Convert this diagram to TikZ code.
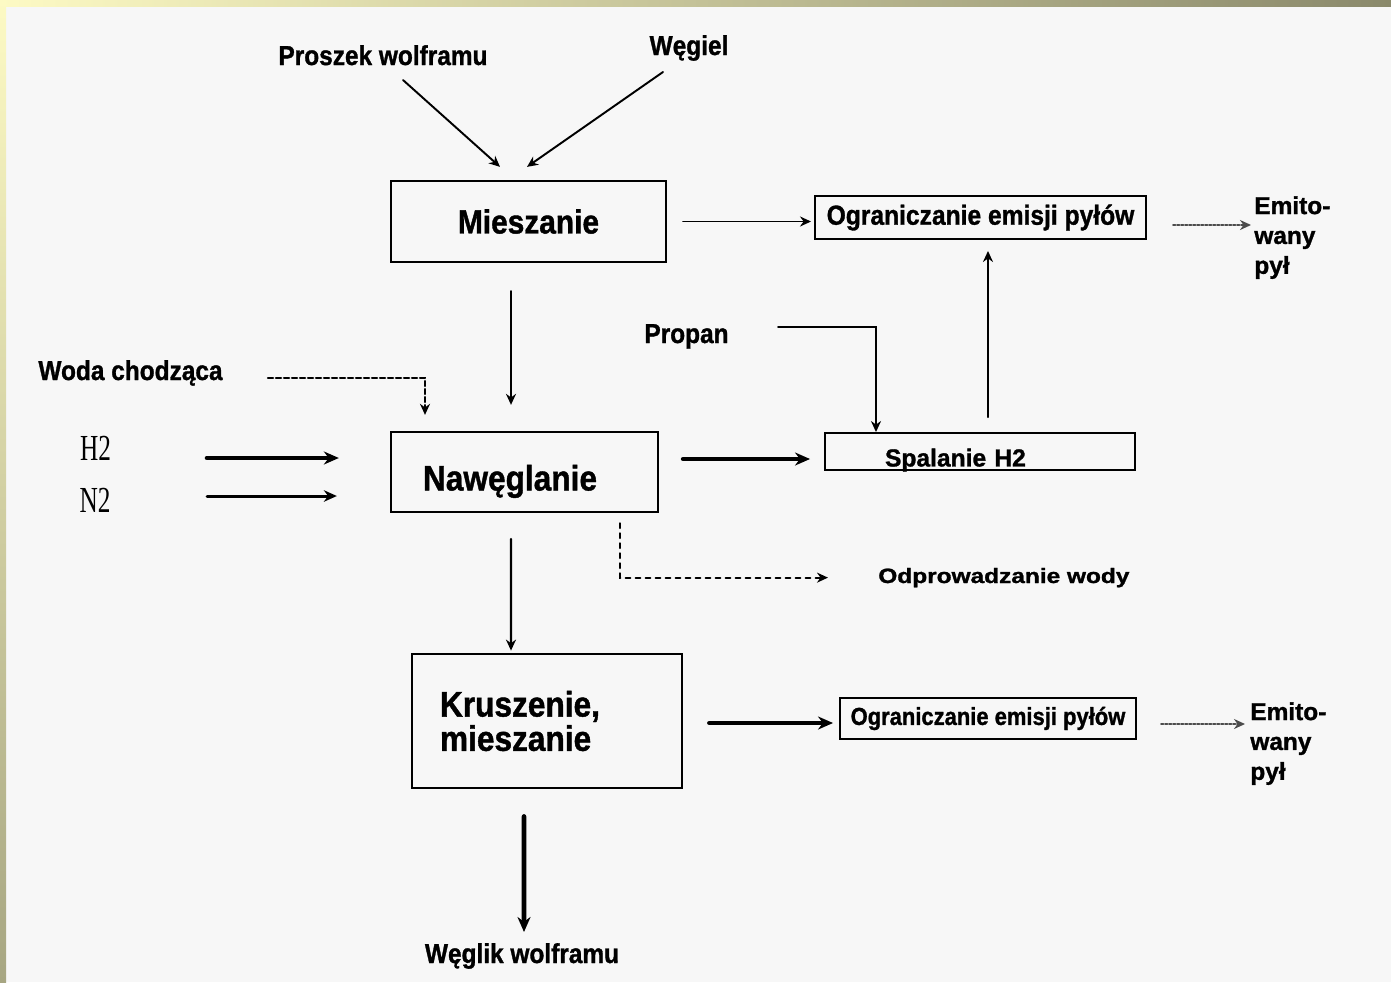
\documentclass[tikz,border=0pt]{standalone}
\usepackage{fontspec}
\setmainfont{Liberation Sans}[BoldFeatures={FakeBold=1.2}]
\newfontfamily\gasfont{Liberation Serif}
\usetikzlibrary{arrows.meta}
\definecolor{slidebg}{HTML}{F7F7F7}
\definecolor{frameA}{HTML}{FDFAC4}
\definecolor{frameB}{HTML}{8A896B}
\definecolor{frameC}{HTML}{A7A682}
\newcommand\tallt[1]{\scalebox{1}[1.12]{#1}}

\begin{document}
\begin{tikzpicture}[x=0.2mm,y=-0.2mm,>={Stealth[length=2.2mm,width=2mm]},line cap=round,
  box/.style={draw,line width=1.3pt,inner sep=0pt,font=\fontsize{18}{19.5}\selectfont\bfseries},
  smallbox/.style={draw,line width=1.1pt,inner sep=0pt,font=\fontsize{14}{17}\selectfont\bfseries},
  lbl/.style={inner sep=0pt,anchor=base,font=\fontsize{13.9}{17}\selectfont\bfseries},
  gas/.style={inner sep=0pt,anchor=base,font=\fontsize{14.4}{17}\selectfont\gasfont},
  flow/.style={->,line width=1.1pt},
  heavy/.style={-{Stealth[length=3mm,width=2.6mm]},line width=2.6pt},
  water/.style={->,line width=1.2pt,dash pattern=on 1mm off 0.6mm},
  dust/.style={->,line width=1pt,gray!60!black,dash pattern=on 0.5mm off 0.3mm}]
\useasboundingbox (0,0) rectangle (1391,982);
\fill[slidebg] (0,0) rectangle (1391,982);
\shade[left color=frameA,right color=frameB] (0,0) rectangle (1391,6);
\shade[top color=frameA,bottom color=frameC] (0,0) rectangle (6,982);

% process boxes
\node[box,font=\fontsize{17}{19}\selectfont\bfseries,minimum width=55mm,minimum height=16.2mm] (mix) at (528.5,221.5) {\tallt{Mieszanie}};
\node[box,minimum width=53.4mm,minimum height=16mm,text width=40.6mm,align=left,text height=21pt,text depth=0pt] (carb) at (524.5,472) {\tallt{Nawęglanie}};
\node[box,line width=1.6pt,minimum width=54mm,minimum height=26.8mm,text width=42.8mm,align=left] (crush) at (547,721) {\tallt{Kruszenie,}\\\tallt{mieszanie}};
\node[smallbox,minimum width=66.2mm,minimum height=8.6mm] (dust1) at (980.5,217.5) {\tallt{Ograniczanie emisji pyłów}};
\node[smallbox,minimum width=62mm,minimum height=7.4mm,text width=38mm,align=left,text height=17pt,text depth=0pt] (burn) at (980,451.5) {Spalanie H2};
\node[smallbox,font=\fontsize{12.5}{15}\selectfont\bfseries,minimum width=59.2mm,minimum height=8.2mm] (dust2) at (988,718.5) {\tallt{Ograniczanie emisji pyłów}};

% labels
\node[lbl] (powder) at (383,65) {\tallt{Proszek wolframu}};
\node[lbl] (coal) at (689,55) {\tallt{Węgiel}};
\node[lbl] (water) at (130.5,380) {\tallt{Woda chodząca}};
\node[gas] (h2) at (95.5,460) {\scalebox{1}[1.45]{H2}};
\node[gas] (n2) at (95,512) {\scalebox{1}[1.45]{N2}};
\node[lbl] (propane) at (686.5,343) {\tallt{Propan}};
\node[lbl,anchor=base west] (drain) at (878,583) {\scalebox{1}[0.85]{Odprowadzanie wody}};
\node[lbl,anchor=north west,align=left] (emit1) at (1254,196) {Emito-\\wany\\pył};
\node[lbl,anchor=north west,align=left] (emit2) at (1250,702) {Emito-\\wany\\pył};
\node[lbl] (product) at (522,963) {\tallt{Węglik wolframu}};

% flows
\draw[flow] ([xshift=4mm,yshift=-3mm]powder.base) -- ([xshift=-5.7mm,yshift=2.6mm]mix.north);
\draw[flow] ([xshift=-5.2mm,yshift=-3.4mm]coal.base) -- ([xshift=-0.3mm,yshift=2.6mm]mix.north);
\draw[flow] ([xshift=3.2mm]mix.east) -- ([xshift=-0.6mm]mix.east -| dust1.west);
\draw[dust] ([xshift=5.2mm,yshift=-1.5mm]dust1.east) -- ([xshift=-0.6mm,yshift=-1.5mm]dust1.east -| emit1.west);
\draw[flow] ([xshift=-3.5mm,yshift=-5.6mm]mix.south) -- ([xshift=-2.7mm,yshift=5.2mm]carb.north);
\draw[water] ([xshift=27.5mm,yshift=0.4mm]water.base) -| ([xshift=-19.9mm,yshift=3.2mm]carb.north);
\draw[heavy] ([xshift=22.3mm,yshift=0.4mm]h2.base) -- ([xshift=-10.2mm,yshift=0.4mm]h2.base -| carb.west);
\draw[-{Stealth[length=2.6mm,width=2.3mm]},line width=1.7pt] ([xshift=22.4mm,yshift=3.2mm]n2.base) -- ([xshift=-10.6mm,yshift=3.2mm]n2.base -| carb.west);
\draw[heavy] ([xshift=4.8mm,yshift=2.6mm]carb.east) -- ([xshift=-2.8mm,yshift=2.6mm]carb.east -| burn.west);
\draw[flow] ([xshift=18.3mm,yshift=3.2mm]propane.base) -| ([xshift=-20.8mm]burn.north);
\draw[flow] ([xshift=1.6mm,yshift=3mm]burn.north) -- ([xshift=1.5mm,yshift=-2.2mm]dust1.south);
\draw[water,line width=1pt,dash pattern=on 1mm off 1mm] ([xshift=19.1mm,yshift=-2mm]carb.south) |- ([xshift=-10mm]drain.west);
\draw[flow,line width=1.4pt] ([xshift=-2.7mm,yshift=-5.2mm]carb.south) -- ([xshift=-7.2mm,yshift=0.4mm]crush.north);
\draw[heavy] ([xshift=5.2mm,yshift=-0.4mm]crush.east) -- ([xshift=-1.2mm,yshift=-0.4mm]crush.east -| dust2.west);
\draw[dust] ([xshift=4.8mm,yshift=-1.1mm]dust2.east) -- ([xshift=-1mm,yshift=-1.1mm]dust2.east -| emit2.west);
\draw[heavy] ([xshift=-4.6mm,yshift=-5.4mm]crush.south) -- ([xshift=0.4mm,yshift=6.2mm]product.base);
\end{tikzpicture}
\end{document}
